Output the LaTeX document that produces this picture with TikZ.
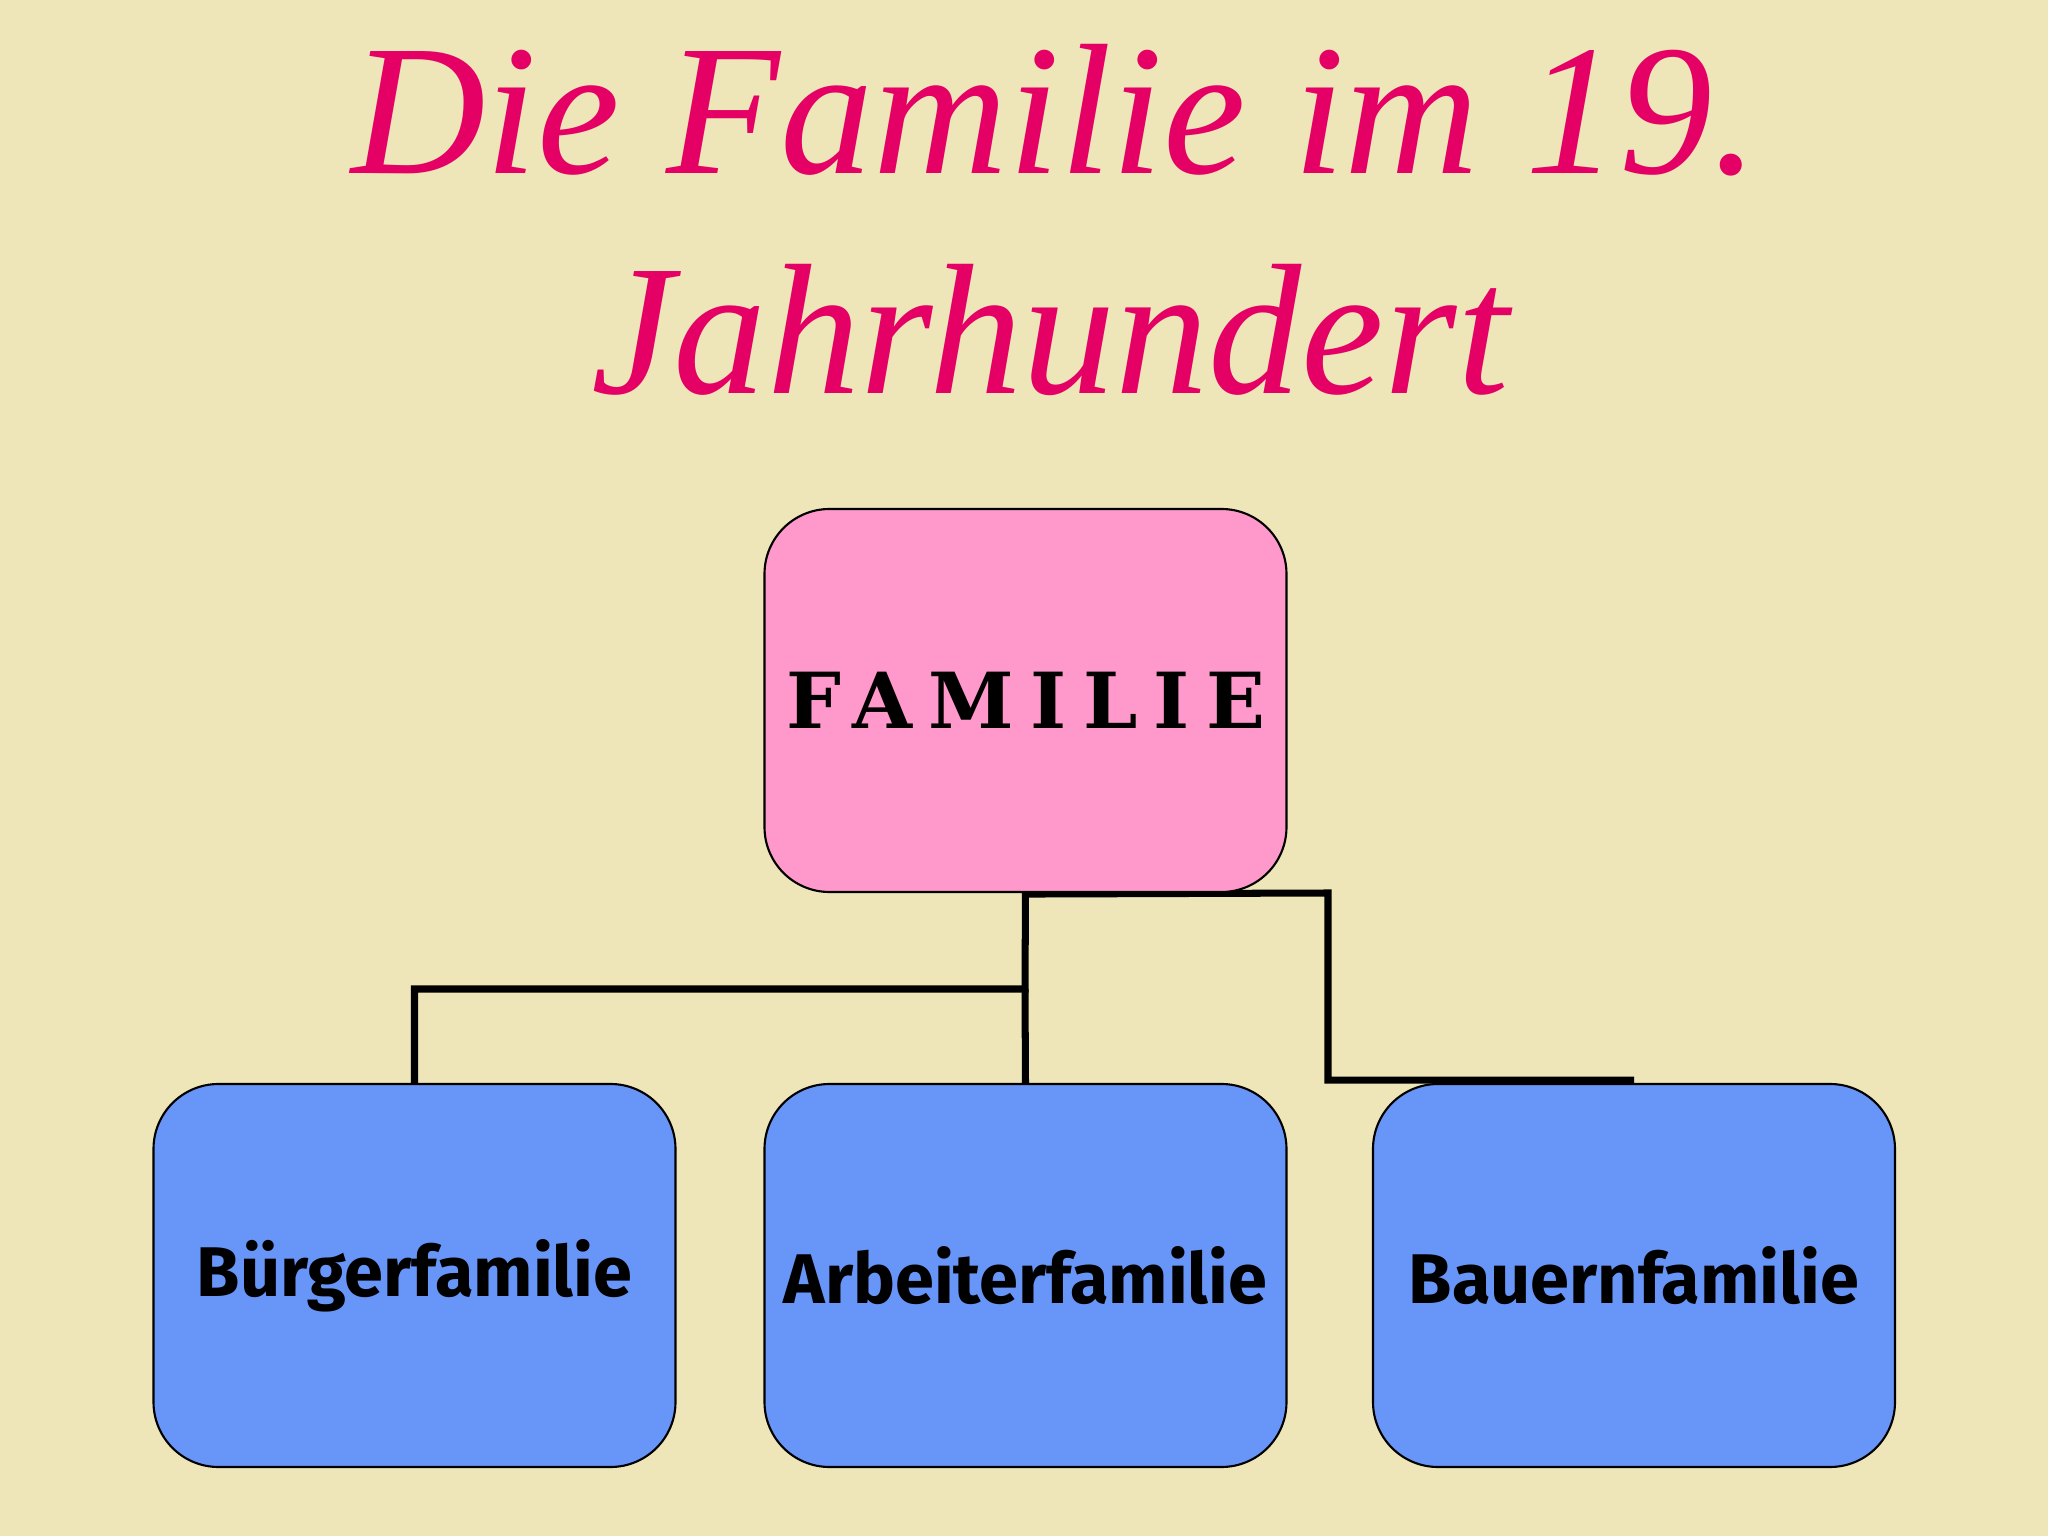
\documentclass[tikz,border=0pt]{standalone}
\usepackage{fontspec}
\usetikzlibrary{backgrounds}
\newfontfamily\titlefont{Liberation Serif}
\newfontfamily\capsfont{DejaVu Serif}[LetterSpace=21]
\newfontfamily\boxfont{Fira Sans}
\definecolor{paper}{RGB}{238,230,184}
\definecolor{titlepink}{RGB}{228,0,100}
\definecolor{rosa}{RGB}{255,153,204}
\definecolor{blau}{RGB}{104,150,248}
\tikzset{
  famkasten/.style={draw=black, line width=0.6pt, rounded corners=0.65cm,
    minimum width=5.22cm, minimum height=3.83cm, inner sep=0pt},
  linie/.style={line width=2pt, black}
}
\begin{document}
\begin{tikzpicture}
        \useasboundingbox (0,0) rectangle (20.48,-15.36);

        \node[titlepink] (titel1) at (10.55,-1.1) {\titlefont\itshape\fontsize{53}{53}\selectfont Die Familie im 19.};
        \node[titlepink] (titel2) at (10.5,-3.3) {\titlefont\itshape\fontsize{53}{53}\selectfont Jahrhundert};

        \coordinate (teilung) at (10.25,-9.89);
        \coordinate (knick) at (13.28,-8.93);

        \node[famkasten, fill=rosa] (fam) at (10.255,-7.005) {\capsfont\bfseries\fontsize{22}{22}\selectfont FAMILIE};
        \node[famkasten, fill=blau] (buerger) at (4.145,-12.755) {\boxfont\bfseries\fontsize{20}{20}\selectfont Bürgerfamilie};
        \node[famkasten, fill=blau] (arbeiter) at (10.255,-12.755) {\boxfont\bfseries\fontsize{20}{20}\selectfont Arbeiterfamilie};
        \node[famkasten, fill=blau] (bauer) at (16.34,-12.755) {\boxfont\bfseries\fontsize{20}{20}\selectfont Bauernfamilie};

        % Hintergrund und Linien hinter den Kaesten
        \begin{pgfonlayer}{background}
        \fill[paper] (0,0) rectangle (20.48,-15.36);
        \draw[linie] (fam.south) -- (teilung) -| (buerger.north);
        \draw[linie] (teilung) -- (arbeiter.north);
        \draw[linie] (fam.south) ++(0,-0.01) -- (knick) |- ([yshift=0.8pt]bauer.north);
        \end{pgfonlayer}
\end{tikzpicture}
\end{document}
